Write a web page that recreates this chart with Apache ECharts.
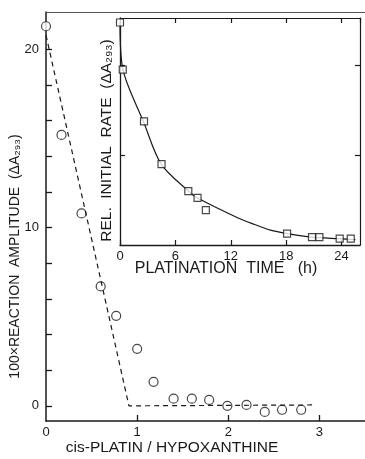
<!DOCTYPE html>
<html>
<head>
<meta charset="utf-8">
<script src="https://cdn.jsdelivr.net/npm/echarts@6/dist/echarts.min.js"></script>
<style>
  html, body { margin: 0; padding: 0; background: #fff; }
  #main { width: 365px; height: 459px; }
</style>
</head>
<body>
<div id="main"></div>
<script>
// main plot: reaction amplitude vs cis-Pt / hypoxanthine ratio
var ratio = [0, 0.17, 0.39, 0.6, 0.77, 1.0, 1.18, 1.4, 1.6, 1.79, 1.99, 2.2, 2.4, 2.59, 2.8];
var amplitude = [21.3, 15.2, 10.8, 6.7, 5.05, 3.2, 1.35, 0.4, 0.4, 0.33, 0.0, 0.05, -0.34, -0.22, -0.22];
// dashed guide line (break point)
var guideX = [0, 0.91, 2.92];
var guideY = [20.8, 0, 0.05];

// inset: relative initial rate vs platination time
var timeH = [0, 0.3, 2.6, 4.5, 7.4, 8.4, 9.3, 18.1, 20.8, 21.6, 23.8, 25.0];
var relRate = [0.99, 0.78, 0.55, 0.36, 0.24, 0.21, 0.155, 0.051, 0.035, 0.035, 0.028, 0.028];
// fitted curve
var curveT = [0, 0.32, 2.56, 4.46, 7.43, 8.36, 12.8, 14.6, 16.3, 18.1, 20.8, 23.8, 25.5];
var curveR = [0.99, 0.78, 0.547, 0.36, 0.239, 0.21, 0.12, 0.091, 0.066, 0.051, 0.035, 0.028, 0.024];

var mainXLabels = [0, 1, 2, 3];
var mainYLabels = [0, 10, 20];
var mainYTicks = [0, 2, 4, 6, 8, 10, 12, 14, 16, 18, 20];
var insetYTicks = [0.4, 0.8];

var pair = function (xs, ys) {
    return xs.map(function (x, i) { return [x, ys[i]]; });
};

var font = 'Liberation Sans';
var ink = '#1a1a1a';

var chartDom = document.getElementById('main');
var myChart = echarts.init(chartDom);
var option;

option = {
    animation: false,
    backgroundColor: '#fff',
    textStyle: { fontFamily: font, color: ink },
    grid: [
        { left: 46, top: 12, right: 0, bottom: 38, outerBoundsMode: 'none' },
        { left: 120, top: 18, right: 5, bottom: 214, outerBoundsMode: 'none', show: true, backgroundColor: '#fff', borderWidth: 0, z: 3 }
    ],
    xAxis: [
        {
            gridIndex: 0, type: 'value', min: 0, max: 3.5, position: 'bottom',
            name: 'cis-PLATIN / HYPOXANTHINE', nameLocation: 'middle', nameGap: 19, nameMoveOverlap: false,
            nameTextStyle: { fontSize: 15.5, color: ink, fontFamily: font, padding: [0, 0, 0, -67] },
            axisLine: { onZero: false, lineStyle: { color: ink, width: 1.5 } },
            axisTick: { inside: true, length: 6, customValues: [1, 2, 3], lineStyle: { color: ink, width: 1.3 } },
            axisLabel: { customValues: mainXLabels, fontSize: 13, color: ink, margin: 5 },
            splitLine: { show: false }
        },
        {
            gridIndex: 0, type: 'value', min: 0, max: 3.5, position: 'top',
            axisLine: { onZero: false, lineStyle: { color: '#555', width: 1.2 } },
            axisTick: { show: false }, axisLabel: { show: false }, splitLine: { show: false }
        },
        {
            gridIndex: 1, type: 'value', min: 0, max: 26, interval: 6, position: 'bottom',
            name: 'PLATINATION  TIME   (h)', nameLocation: 'middle', nameGap: 16, nameMoveOverlap: false,
            nameTextStyle: { fontSize: 16, color: ink, fontFamily: font, padding: [0, 0, 0, -28] },
            axisLine: { onZero: false, lineStyle: { color: ink, width: 1.3 } },
            axisTick: { inside: true, length: 5, lineStyle: { color: ink, width: 1.2 } },
            axisLabel: { fontSize: 13, color: ink, margin: 5, showMaxLabel: false },
            splitLine: { show: false }, z: 4
        },
        {
            gridIndex: 1, type: 'value', min: 0, max: 26, interval: 6, position: 'top',
            axisLine: { onZero: false, lineStyle: { color: ink, width: 1.2 } },
            axisTick: { inside: true, length: 5, lineStyle: { color: ink, width: 1.2 } },
            axisLabel: { show: false }, splitLine: { show: false }, z: 4
        }
    ],
    yAxis: [
        {
            gridIndex: 0, type: 'value', min: -0.85, max: 22.1,
            name: '100×REACTION  AMPLITUDE  (ΔA₂₉₃)', nameLocation: 'middle', nameGap: 24, nameRotate: 90,
            nameMoveOverlap: false,
            nameTextStyle: { fontSize: 14, color: ink, fontFamily: font, padding: [0, 0, 0, -80] },
            axisLine: { onZero: false, lineStyle: { color: ink, width: 1.5 } },
            axisTick: { inside: true, length: 6, customValues: mainYTicks, lineStyle: { color: ink, width: 1.3 } },
            axisLabel: { customValues: mainYLabels, fontSize: 13, color: ink, margin: 7 },
            splitLine: { show: false }
        },
        {
            gridIndex: 1, type: 'value', min: 0, max: 1.01, position: 'left',
            name: 'REL.  INITIAL  RATE  (ΔA₂₉₃)', nameLocation: 'middle', nameGap: 5, nameRotate: 90,
            nameMoveOverlap: false,
            nameTextStyle: { fontSize: 15.5, color: ink, fontFamily: font, padding: [0, 0, 0, -18] },
            axisLine: { onZero: false, lineStyle: { color: ink, width: 1.3 } },
            axisTick: { inside: true, length: 5, customValues: insetYTicks, lineStyle: { color: ink, width: 1.2 } },
            axisLabel: { show: false }, splitLine: { show: false }, z: 4
        },
        {
            gridIndex: 1, type: 'value', min: 0, max: 1.01, position: 'right',
            axisLine: { onZero: false, lineStyle: { color: ink, width: 1.2 } },
            axisTick: { inside: true, length: 5, customValues: insetYTicks, lineStyle: { color: ink, width: 1.2 } },
            axisLabel: { show: false }, splitLine: { show: false }, z: 4
        }
    ],
    series: [
        {
            name: 'guide', type: 'line', xAxisIndex: 0, yAxisIndex: 0,
            data: pair(guideX, guideY), symbol: 'none', clip: false,
            lineStyle: { color: ink, width: 1.2, type: [5, 4] }
        },
        {
            name: 'amplitude', type: 'scatter', xAxisIndex: 0, yAxisIndex: 0,
            data: pair(ratio, amplitude), symbol: 'circle', symbolSize: 9, clip: false,
            itemStyle: { color: '#fff', borderColor: ink, borderWidth: 1.2 }
        },
        {
            name: 'fit', type: 'line', xAxisIndex: 2, yAxisIndex: 1,
            data: pair(curveT, curveR), symbol: 'none', smooth: 0.3, z: 5,
            lineStyle: { color: ink, width: 1.2 }
        },
        {
            name: 'rate', type: 'scatter', xAxisIndex: 2, yAxisIndex: 1,
            data: pair(timeH, relRate), symbol: 'rect', symbolSize: 7, clip: false, z: 6,
            itemStyle: { color: '#fff', borderColor: ink, borderWidth: 1.2 }
        }
    ]
};

option && myChart.setOption(option);
</script>
</body>
</html>
